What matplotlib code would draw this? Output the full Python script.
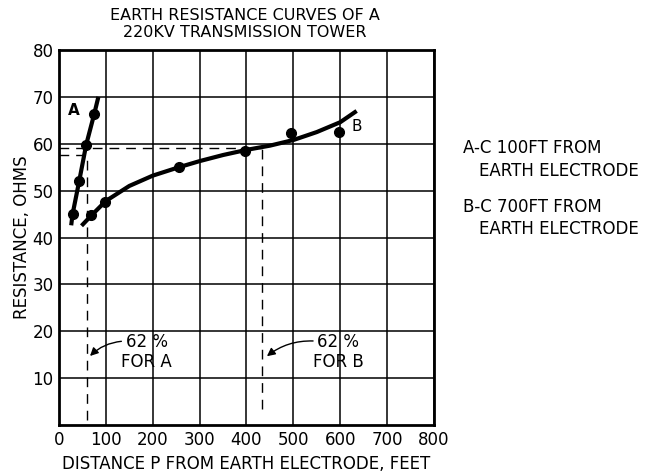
import matplotlib.pyplot as plt
from matplotlib.patches import FancyArrowPatch

# Curve A (A-C 100 ft): measured points and drawn curve
a_pts_x = [29, 43, 58, 75]
a_pts_y = [45, 52, 59.8, 66.3]
a_line_x = [26, 29, 43, 58, 75, 84]
a_line_y = [42.6, 45, 52, 59.8, 66.3, 70]

# Curve B (B-C 700 ft): measured points and drawn curve
b_pts_x = [68, 98, 256, 397, 496, 597]
b_pts_y = [44.9, 47.6, 55, 58.5, 62.2, 62.5]
b_line_x = [48, 70, 100, 150, 200, 256, 300, 350, 400, 450, 500, 550, 600, 635]
b_line_y = [42.5, 44.8, 47.8, 51, 53.2, 55, 56.3, 57.6, 58.7, 59.6, 60.8, 62.5, 64.6, 67]

# 62% reference positions
p62_a, r62_a = 59, 57.5
p62_b, r62_b = 434, 59

x_ticks = [0, 100, 200, 300, 400, 500, 600, 700, 800]
y_ticks = [10, 20, 30, 40, 50, 60, 70, 80]

plt.rcParams['font.family'] = 'DejaVu Sans'
fig = plt.figure(figsize=(6.52, 4.72), dpi=100)
ax = fig.add_axes([0.0905, 0.0996, 0.5751, 0.7944])

ax.set_xlim(0, 800)
ax.set_ylim(0, 80)
ax.set_xticks(x_ticks)
ax.set_yticks(y_ticks)
ax.set_xticklabels([str(v) for v in x_ticks], fontsize=12)
ax.set_yticklabels([str(v) for v in y_ticks], fontsize=12)
ax.tick_params(length=0, pad=4)
ax.grid(True, color='black', lw=1.1)
ax.set_axisbelow(True)
for s in ax.spines.values():
    s.set_linewidth(2)

# curves
ax.plot(a_line_x, a_line_y, color='black', lw=3, solid_capstyle='butt')
ax.plot(a_pts_x, a_pts_y, 'o', color='black', ms=7)
ax.plot(b_line_x, b_line_y, color='black', lw=3, solid_capstyle='butt')
ax.plot(b_pts_x, b_pts_y, 'o', color='black', ms=7)

# dashed construction lines
dash = dict(color='black', lw=1, ls=(0, (7, 5)))
ax.plot([0, p62_b], [r62_b, r62_b], **dash)
ax.plot([0, p62_a], [r62_a, r62_a], **dash)
ax.plot([p62_a, p62_a], [1, r62_a], **dash)
ax.plot([p62_b, p62_b], [3.5, r62_b], **dash)

ax.text(31, 67, 'A', fontsize=11, fontweight='bold', ha='center', va='center')
ax.text(635, 63.6, 'B', fontsize=11, ha='center', va='center')

# 62% annotations
for tx, px, lab in [(187, p62_a + 3, 'A'), (596, p62_b + 5, 'B')]:
    ax.text(tx, 15.6, '62 %\nFOR ' + lab, fontsize=12,
            ha='center', va='center', linespacing=1.1)
    arr = FancyArrowPatch((tx - 48, 17.9), (px, 14.3),
                          connectionstyle='arc3,rad=0.2', arrowstyle='-|>',
                          mutation_scale=12, color='black', lw=1)
    ax.add_patch(arr)

ax.set_xlabel('DISTANCE P FROM EARTH ELECTRODE, FEET', fontsize=12, labelpad=5)
ax.set_ylabel('RESISTANCE, OHMS', fontsize=12, va='center')
ax.yaxis.set_label_coords(-0.099, 0.5)

fig.text(0.376, 0.968, 'EARTH RESISTANCE CURVES OF A', fontsize=11.5, ha='center', va='center')
fig.text(0.376, 0.932, '220KV TRANSMISSION TOWER', fontsize=11.5, ha='center', va='center')

fig.text(463 / 652, 1 - 148 / 472, 'A-C 100FT FROM', fontsize=12, va='center')
fig.text(479 / 652, 1 - 171 / 472, 'EARTH ELECTRODE', fontsize=12, va='center')
fig.text(463 / 652, 1 - 207 / 472, 'B-C 700FT FROM', fontsize=12, va='center')
fig.text(479 / 652, 1 - 229 / 472, 'EARTH ELECTRODE', fontsize=12, va='center')

fig.savefig('out.png', dpi=100)
